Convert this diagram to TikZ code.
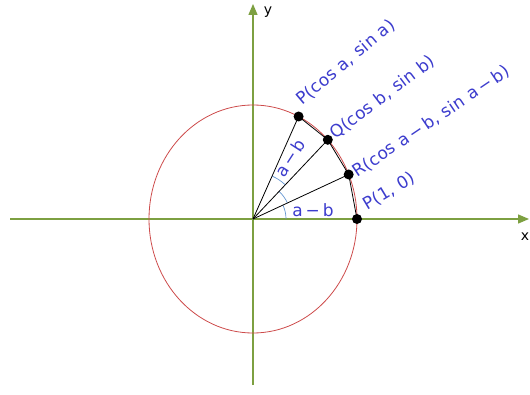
\documentclass[tikz,border=0pt]{standalone}
\usepackage{fontspec}
\setmainfont{DejaVu Sans}
\newfontfamily\lblfont[LetterSpace=2]{DejaVu Sans}
\usetikzlibrary{arrows.meta}
\definecolor{axisgreen}{RGB}{125,160,65}
\definecolor{circred}{RGB}{205,75,75}
\definecolor{lblue}{RGB}{60,60,205}
\definecolor{arcblue}{RGB}{100,150,210}
\begin{document}
\begin{tikzpicture}[x=1pt,y=1pt,
 axis/.style={draw=axisgreen, line width=1.3pt, -{Triangle[length=11pt,width=9pt]}},
 seg/.style={draw=black, line width=0.8pt},
 dot/.style={circle, fill=black, inner sep=0pt, minimum size=10pt},
 lbl/.style={text=lblue, font=\lblfont\fontsize{17}{19}\selectfont, inner sep=0pt, anchor=base west},
 axlbl/.style={text=black, font=\fontsize{14}{16}\selectfont, inner sep=0pt},
 anglearc/.style={draw=arcblue, line width=0.7pt},
]
\useasboundingbox (0,0) rectangle (530,394);
\coordinate (O) at (253,175);
\coordinate (xl) at (10,175);
\coordinate (xr) at (529,175);
\coordinate (yb) at (253,9);
\coordinate (yt) at (253,390);
\draw[axis] (xl) -- (xr);
\draw[axis] (yb) -- (yt);
\draw[circred, line width=0.8pt] (O) ellipse [x radius=104, y radius=114];
\node[axlbl] (xlab) at (525,157) {x};
\node[axlbl] (ylab) at (268,382) {y};
% angle arcs
\draw[anglearc] ([shift={(0:33)}]O) arc[start angle=0,end angle=24.9,radius=33];
\draw[anglearc] ([shift={(24.9:38)}]O) arc[start angle=24.9,end angle=46.6,radius=38];
\draw[anglearc] ([shift={(46.6:47)}]O) arc[start angle=46.6,end angle=66,radius=47];
% points
\node[dot] (P1) at (357,175) {};
\node[dot] (R) at (348.7,219.5) {};
\node[dot] (Q) at (327.8,254.2) {};
\node[dot] (P) at (298.6,277.5) {};
\draw[seg] (O) -- (P.center);
\draw[seg] (O) -- (Q.center);
\draw[seg] (O) -- (R.center);
\draw[seg] (P.center) -- (Q.center) -- (R.center) -- (P1.center);
% labels
\node[lbl, rotate=40] (lp) at (302,288) {P(cos a, sin a)};
\node[lbl, rotate=37] (lq) at (335,254) {Q(cos b, sin b)};
\node[lbl, rotate=34] (lr) at (357,216) {R(cos a\,−\,b, sin a\,−\,b)};
\node[lbl, rotate=31] (lp1) at (367,183) {P(1, 0)};
\node[lbl, anchor=center] (ab1) at (313,184) {a\,−\,b};
\node[lbl, anchor=center, rotate=57] (ab2) at (290,236) {a\,−\,b};
\end{tikzpicture}
\end{document}
